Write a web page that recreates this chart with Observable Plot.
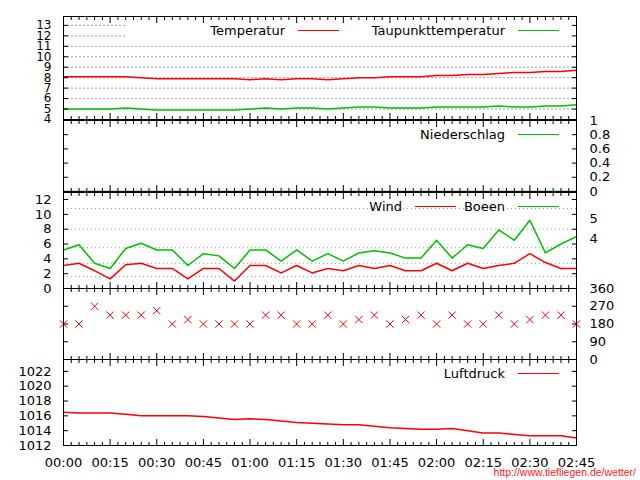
<!DOCTYPE html>
<html>
<head>
<meta charset="utf-8">
<script src="https://cdn.jsdelivr.net/npm/d3@7"></script>
<script src="https://cdn.jsdelivr.net/npm/@observablehq/plot@0.6"></script>
<style>
  body { margin: 0; background: #fff; }
  #chart { position: relative; width: 640px; height: 480px; background: #fff; overflow: hidden; }
  #chart svg { position: absolute; left: 0; top: 0; }
  #credit { position: absolute; right: 4px; top: 467px; font: 10.5px "Liberation Sans", Arial, sans-serif; line-height: 10px; color: #ff1a1a; white-space: nowrap; }
</style>
</head>
<body>
<div id="chart"></div>
<script>
// ---- data (minutes after 00:00, 5-minute readings) ----
const times = [0,5,10,15,20,25,30,35,40,45,50,55,60,65,70,75,80,85,90,95,100,105,110,115,120,125,130,135,140,145,150,155,160,165];
const temperature = [8.1,8.1,8.1,8.1,8.1,8.0,7.9,7.9,7.9,7.9,7.9,7.9,7.8,7.9,7.8,7.9,7.9,7.8,7.9,8.0,8.0,8.1,8.1,8.1,8.2,8.2,8.3,8.3,8.4,8.5,8.5,8.6,8.6,8.7];
const dewpoint = [5.0,5.0,5.0,5.0,5.1,5.0,4.9,4.9,4.9,4.9,4.9,4.9,5.0,5.1,5.0,5.1,5.1,5.0,5.1,5.2,5.2,5.1,5.1,5.1,5.2,5.2,5.2,5.2,5.3,5.2,5.2,5.3,5.3,5.4];
const precipitation = [0,0,0,0,0,0,0,0,0,0,0,0,0,0,0,0,0,0,0,0,0,0,0,0,0,0,0,0,0,0,0,0,0,0];
const wind = [3.1,3.4,2.4,1.3,3.2,3.4,2.7,2.7,1.3,2.7,2.7,1.0,3.1,3.1,2.1,3.1,2.1,2.7,2.4,3.1,2.7,3.1,2.4,2.4,3.4,2.4,3.4,2.7,3.1,3.4,4.7,3.5,2.7,2.7];
const gusts = [5.2,5.9,3.4,2.7,5.4,6.1,5.2,5.2,3.1,4.7,4.4,2.7,5.2,5.2,3.7,5.2,3.7,4.7,3.7,4.8,5.1,4.8,4.1,4.1,6.5,4.1,5.9,5.4,7.9,6.5,9.2,4.8,6.0,7.0];
const direction = [180,180,270,225,225,225,247.5,180,202.5,180,180,180,180,225,225,180,180,225,180,202.5,225,180,202.5,225,180,225,180,180,225,180,202.5,225,225,180];
const pressure = [1016.5,1016.4,1016.4,1016.4,1016.2,1016.0,1016.0,1016.0,1016.0,1015.9,1015.7,1015.5,1015.6,1015.5,1015.3,1015.1,1015.0,1014.9,1014.8,1014.8,1014.6,1014.4,1014.3,1014.2,1014.2,1014.3,1014.0,1013.7,1013.7,1013.5,1013.3,1013.3,1013.3,1013.0];

// ---- ticks and labels ----
const xMajorTicks = [0,15,30,45,60,75,90,105,120,135,150,165];
const xTickLabels = ["00:00","00:15","00:30","00:45","01:00","01:15","01:30","01:45","02:00","02:15","02:30","02:45"];
const xMinorTicks = d3.range(0, 165, 2.5).filter(t => t % 15 !== 0);
const tempTicks = [4,5,6,7,8,9,10,11,12,13];
const tempGrid = [5,6,7,8,9,10,11,12,13];
const precipTicks = [0,0.2,0.4,0.6,0.8,1];
const precipTickLabels = ["0","0.2","0.4","0.6","0.8","1"];
const windTicks = [0,2,4,6,8,10,12];
const beaufortBounds = [1.6,3.4,5.5,8.0,10.8];
const beaufortLabelPos = [9.4,6.75];
const beaufortLabels = ["5","4"];
const dirTicks = [0,90,180,270,360];
const pressureTicks = [1012,1014,1016,1018,1020,1022];

const rows = times.map((t, i) => ({
  t, temp: temperature[i], dew: dewpoint[i], rain: precipitation[i],
  wind: wind[i], gust: gusts[i], dir: direction[i], press: pressure[i]
}));

const RED = "#ff0000", GREEN = "#00c000", GRID = "#a0a0a0";
const W = 640, H = 480;

function panel(top, bottom, yDomain, marks) {
  return Plot.plot({
    width: W, height: H,
    marginLeft: 63, marginRight: 64, marginTop: top, marginBottom: H - bottom,
    x: {domain: [0, 165]},
    y: {domain: yDomain},
    style: {background: "transparent", fontFamily: "'DejaVu Sans', sans-serif", fontSize: "13px", color: "black", overflow: "visible"},
    marks
  });
}

const noText = {fill: "none", label: null};
function xTickMarks() {
  return [
    Plot.axisX({anchor: "bottom", ticks: xMajorTicks, tickSize: -6, ...noText}),
    Plot.axisX({anchor: "bottom", ticks: xMinorTicks, tickSize: -3, ...noText}),
    Plot.axisX({anchor: "top", ticks: xMajorTicks, tickSize: -6, ...noText}),
    Plot.axisX({anchor: "top", ticks: xMinorTicks, tickSize: -3, ...noText})
  ];
}
function yTickMarks(ticks, size = 5) {
  return [
    Plot.axisY({anchor: "left", ticks, tickSize: -size, ...noText}),
    Plot.axisY({anchor: "right", ticks, tickSize: -size, ...noText})
  ];
}
function yLabels(anchor, ticks, labels, fontSize) {
  const lab = new Map(ticks.map((t, i) => [t, labels[i]]));
  const opts = {anchor, ticks, tickSize: 0, tickPadding: anchor === "left" ? 12 : 13,
    tickFormat: d => lab.get(d), label: null, textAnchor: anchor === "left" ? "end" : "start"};
  if (fontSize) opts.fontSize = fontSize;
  return Plot.axisY(opts);
}
// gnuplot-style key in the top-right corner of a panel
function key(entries, colWidth, opaqueWidth) {
  return (index, scales, values, dims) => {
    const g = d3.create("svg:g");
    const right = dims.width - dims.marginRight;
    const cy = dims.marginTop + 14;
    if (opaqueWidth) {
      g.append("rect").attr("x", right - opaqueWidth).attr("y", dims.marginTop + 1)
        .attr("width", opaqueWidth).attr("height", 25).attr("fill", "white");
    }
    entries.forEach((e, i) => {
      const shift = (entries.length - 1 - i) * colWidth;
      const x0 = right - 58 - shift;
      g.append("line").attr("x1", x0).attr("x2", x0 + 41).attr("y1", cy + 0.5).attr("y2", cy + 0.5)
        .attr("stroke", e.color).attr("stroke-width", 1);
      g.append("text").attr("x", x0 - 13).attr("y", cy).attr("dy", "0.35em")
        .attr("text-anchor", "end").attr("fill", "black").text(e.label);
    });
    return g.node();
  };
}

const chart = document.getElementById("chart");

// Panel 1: temperature / dew point
chart.append(panel(16, 119, [4, 13.85], [
  Plot.gridY({ticks: tempGrid, stroke: GRID, strokeOpacity: 1, strokeDasharray: "2,2"}),
  key([], 0, 451),
  Plot.line(rows, {x: "t", y: "temp", stroke: RED}),
  Plot.line(rows, {x: "t", y: "dew", stroke: GREEN}),
  Plot.frame({stroke: "black"}),
  ...xTickMarks(),
  ...yTickMarks(tempTicks),
  yLabels("left", tempTicks, tempTicks.map(String), 12),
  key([{label: "Temperatur", color: RED}, {label: "Taupunkttemperatur", color: GREEN}], 220, 0)
]));

// Panel 2: precipitation
chart.append(panel(120, 191, [0, 1], [
  Plot.line(rows, {x: "t", y: "rain", stroke: GREEN}),
  Plot.frame({stroke: "black"}),
  ...xTickMarks(),
  ...yTickMarks(precipTicks),
  yLabels("right", precipTicks, precipTickLabels),
  key([{label: "Niederschlag", color: GREEN}], 0, 0)
]));

// Panel 3: wind / gusts
chart.append(panel(192, 288, [0, 12.95], [
  Plot.gridY({ticks: beaufortBounds, stroke: GRID, strokeOpacity: 1, strokeDasharray: "1,3"}),
  Plot.line(rows, {x: "t", y: "wind", stroke: RED}),
  Plot.line(rows, {x: "t", y: "gust", stroke: GREEN}),
  Plot.frame({stroke: "black"}),
  ...xTickMarks(),
  ...yTickMarks(windTicks),
  yLabels("left", windTicks, windTicks.map(String)),
  yLabels("right", beaufortLabelPos, beaufortLabels),
  key([{label: "Wind", color: RED}, {label: "Boeen", color: GREEN}], 103, 0)
]));

// Panel 4: wind direction
chart.append(panel(288, 359, [0, 360], [
  Plot.dot(rows, {x: "t", y: "dir", symbol: "times", r: 3.4, stroke: RED, strokeWidth: 1}),
  Plot.frame({stroke: "black"}),
  ...xTickMarks(),
  ...yTickMarks(dirTicks),
  yLabels("right", dirTicks, dirTicks.map(String))
]));

// Panel 5: air pressure
const xLab = new Map(xMajorTicks.map((t, i) => [t, xTickLabels[i]]));
chart.append(panel(359, 445, [1012, 1023.6], [
  Plot.line(rows, {x: "t", y: "press", stroke: RED}),
  Plot.frame({stroke: "black"}),
  ...xTickMarks(),
  ...yTickMarks(pressureTicks),
  yLabels("left", pressureTicks, pressureTicks.map(String)),
  Plot.axisX({anchor: "bottom", ticks: xMajorTicks, tickSize: 0, tickPadding: 12, tickFormat: d => xLab.get(d), label: null}),
  key([{label: "Luftdruck", color: RED}], 0, 0)
]));

const credit = document.createElement("div");
credit.id = "credit";
credit.textContent = "http://www.tiefliegen.de/wetter/";
chart.append(credit);
</script>
</body>
</html>
